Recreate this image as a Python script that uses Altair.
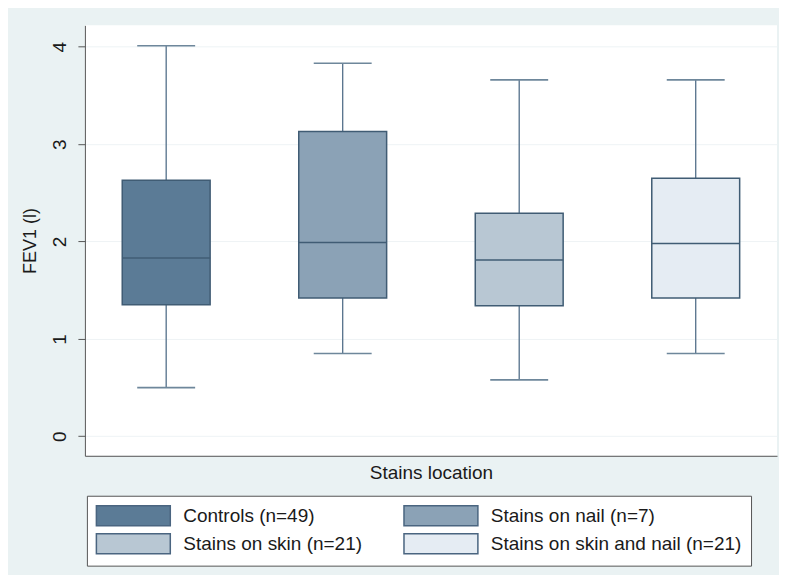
import altair as alt
import pandas as pd

categories = ["Controls (n=49)", "Stains on nail (n=7)", "Stains on skin (n=21)", "Stains on skin and nail (n=21)"]
lower = [0.50, 0.85, 0.58, 0.85]
q1 = [1.35, 1.42, 1.34, 1.42]
median = [1.83, 1.99, 1.81, 1.98]
q3 = [2.63, 3.13, 2.29, 2.65]
upper = [4.01, 3.83, 3.66, 3.66]
fills = ["#5B7B96", "#8BA2B6", "#B8C7D3", "#E5ECF3"]
y_ticks = [0, 1, 2, 3, 4]

df = pd.DataFrame({"group": categories, "lower": lower, "q1": q1,
                   "median": median, "q3": q3, "upper": upper})

FONT = "Liberation Sans"
OUTLINE = "#405C74"
WHISK = "#54708A"
CAP = "#6E879B"

x_enc = alt.X("group:N", sort=categories,
              scale=alt.Scale(paddingInner=0.1, paddingOuter=0.0105),
              axis=alt.Axis(labels=False, ticks=False, grid=False, domain=True,
                            domainColor="#555555", domainWidth=1,
                            title="Stains location", titleFont=FONT,
                            titleFontSize=19, titleFontWeight="normal",
                            titleColor="#1a1a1a", titlePadding=8))

y_scale = alt.Scale(domain=[-0.2, 4.22], nice=False, zero=False)
y_axis = alt.Axis(values=y_ticks, grid=True, gridColor="#EEF3F5", gridWidth=1,
                  domainColor="#555555", domainWidth=1, tickColor="#555555",
                  tickSize=7, labelAngle=-90, labelAlign="center",
                  labelBaseline="bottom", labelPadding=8, labelFont=FONT,
                  labelFontSize=19, labelColor="#1a1a1a",
                  title="FEV1 (l)", titleFont=FONT, titleFontSize=18,
                  titleFontWeight="normal", titleColor="#1a1a1a", titlePadding=11)

base = alt.Chart(df)

whisk_lo = base.mark_rule(color=WHISK, strokeWidth=1.3).encode(
    x=x_enc, y=alt.Y("lower:Q", scale=y_scale, axis=y_axis), y2="q1:Q")
whisk_hi = base.mark_rule(color=WHISK, strokeWidth=1.3).encode(
    x=x_enc, y=alt.Y("q3:Q", scale=y_scale, axis=y_axis), y2="upper:Q")
cap_lo = base.mark_tick(color=CAP, size=58, thickness=1.6, opacity=1).encode(
    x=x_enc, y=alt.Y("lower:Q", scale=y_scale, axis=y_axis))
cap_hi = base.mark_tick(color=CAP, size=58, thickness=1.6, opacity=1).encode(
    x=x_enc, y=alt.Y("upper:Q", scale=y_scale, axis=y_axis))

legend = alt.Legend(
    orient="none", legendX=2, legendY=471, columns=2, direction="horizontal",
    title=None, fillColor="white", strokeColor="#555555", padding=9,
    symbolType="M-3.7,-1L3.7,-1L3.7,1L-3.7,1Z", symbolSize=400,
    symbolOffset=26.5, symbolStrokeColor="#4A6580", symbolStrokeWidth=1.5,
    symbolOpacity=1, labelFont=FONT, labelFontSize=19, labelColor="#1a1a1a",
    labelOffset=39, labelLimit=500, rowPadding=2, columnPadding=38)

box = base.mark_bar(size=88, stroke=OUTLINE, strokeWidth=1.5, opacity=1).encode(
    x=x_enc,
    y=alt.Y("q1:Q", scale=y_scale, axis=y_axis), y2="q3:Q",
    fill=alt.Fill("group:N", sort=categories,
                  scale=alt.Scale(domain=categories, range=fills), legend=legend))

med = base.mark_tick(color=OUTLINE, size=88, thickness=1.5, opacity=1).encode(
    x=x_enc, y=alt.Y("median:Q", scale=y_scale, axis=y_axis))

chart = alt.layer(whisk_lo, whisk_hi, cap_lo, cap_hi, box, med).properties(
    width=693, height=431,
    background="#EAF2F3",
    padding={"left": 77, "top": 17, "right": 2, "bottom": 119},
    autosize=alt.AutoSizeParams(type="none"),
).configure_view(fill="white", stroke=None)

chart.save("out.html", embed_options={"renderer": "svg", "actions": False})
